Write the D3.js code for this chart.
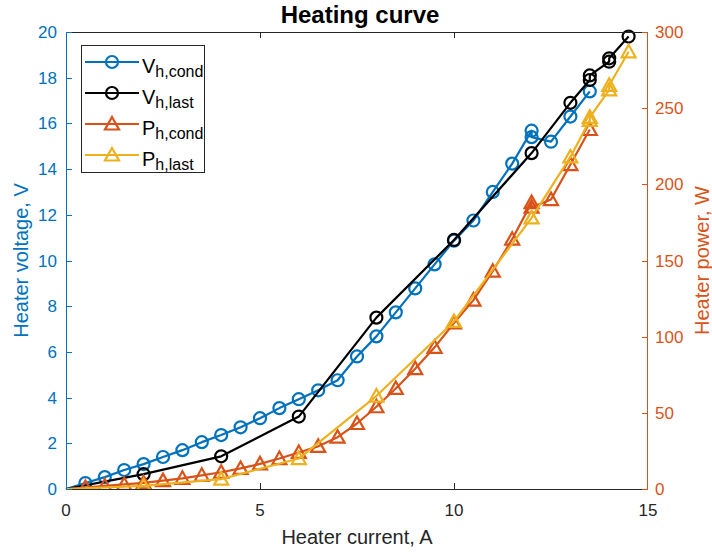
<!DOCTYPE html>
<html><head><meta charset="utf-8">
<script src="https://cdn.jsdelivr.net/npm/d3@7"></script>
<style>body{margin:0;background:#fff}svg{display:block}text{font-family:"Liberation Sans",Arial,Helvetica,sans-serif}</style>
</head><body><svg id="c" width="712" height="552"></svg>
<script>
// Data
const condCurrent = [0,0.5,1,1.5,2,2.5,3,3.5,4,4.5,5,5.5,6,6.5,7,7.5,8,8.5,9,9.5,10,10.5,11,11.5,12,12,12.5,13,13.5];
const condVoltage = [0,0.26,0.52,0.83,1.09,1.4,1.7,2.05,2.36,2.7,3.1,3.54,3.93,4.32,4.76,5.8,6.68,7.73,8.78,9.83,10.87,11.75,13.0,14.24,15.68,15.4,15.2,16.3,17.4];
const condPower   = [0,1,2,3,4,5.5,7,9,11,13.5,16.5,20,24,28,34,43,54,66,79,93,109,124,143,164,188,185,190,213,236];
const lastCurrent = [0,2,4,6,8,10,12,13,13.5,13.5,14,14,14.5];
const lastVoltage = [0,0.65,1.43,3.17,7.5,10.9,14.7,16.9,17.9,18.1,18.7,18.85,19.8];
const lastPower   = [0,2,6.5,20,61,110,178,218,242,244,262,265,287];
const xTicks = [0,5,10,15];
const yLeftTicks = [0,2,4,6,8,10,12,14,16,18,20];
const yRightTicks = [0,50,100,150,200,250,300];
const legendMain = ["V","V","P","P"];
const legendSub = ["h,cond","h,last","h,cond","h,last"];

const C = {blue:"#0072BD", black:"#000000", orange:"#D95319", yellow:"#EDB120", axis:"#262626"};
const svg = d3.select("#c");
const L=66, R=648, T=32, B=489;
const x = d3.scaleLinear().domain([0,15]).range([L,R]);
const yL = d3.scaleLinear().domain([0,20]).range([B,T]);
const yR = d3.scaleLinear().domain([0,300]).range([B,T]);

svg.append("defs").append("clipPath").attr("id","clip").append("rect")
  .attr("x",L-8).attr("y",T-8).attr("width",R-L+16).attr("height",B-T+8);

const series = [
  {xs:condCurrent, ys:condVoltage, sc:yL, col:C.blue, m:"o"},
  {xs:lastCurrent, ys:lastVoltage, sc:yL, col:C.black, m:"o"},
  {xs:condCurrent, ys:condPower, sc:yR, col:C.orange, m:"^"},
  {xs:lastCurrent, ys:lastPower, sc:yR, col:C.yellow, m:"^"}
];
const tri = (cx,cy)=>`M${cx},${cy-7}L${cx+7},${cy+5.5}L${cx-7},${cy+5.5}Z`;
const g = svg.append("g");
const plotClip = g.append("g").attr("clip-path","url(#clip)");
series.forEach(s=>{
  const pts = s.xs.map((v,i)=>[v,s.ys[i]]);
  const line = d3.line().x(d=>x(d[0])).y(d=>s.sc(d[1]));
  plotClip.append("path").attr("d",line(pts)).attr("fill","none").attr("stroke",s.col).attr("stroke-width",2.2).attr("stroke-linejoin","round");
  const mp = pts.filter(d=>d[0]>0);
  if(s.m==="o"){
    plotClip.selectAll(null).data(mp).enter().append("circle")
      .attr("cx",d=>x(d[0])).attr("cy",d=>s.sc(d[1])).attr("r",6)
      .attr("fill","none").attr("stroke",s.col).attr("stroke-width",2.2);
  } else {
    plotClip.selectAll(null).data(mp).enter().append("path")
      .attr("d",d=>tri(x(d[0]),s.sc(d[1])))
      .attr("fill","none").attr("stroke",s.col).attr("stroke-width",2.2).attr("stroke-linejoin","miter");
  }
});

// Axes frame
const ax = svg.append("g");
ax.append("line").attr("x1",L).attr("x2",R).attr("y1",T+0.5).attr("y2",T+0.5).attr("stroke",C.axis).attr("stroke-width",1);
ax.append("line").attr("x1",L).attr("x2",R).attr("y1",B+0.5).attr("y2",B+0.5).attr("stroke",C.axis).attr("stroke-width",1);
ax.append("line").attr("x1",L+0.5).attr("x2",L+0.5).attr("y1",T).attr("y2",B+1).attr("stroke",C.blue).attr("stroke-width",1);
ax.append("line").attr("x1",R-0.5).attr("x2",R-0.5).attr("y1",T).attr("y2",B+1).attr("stroke",C.orange).attr("stroke-width",1);

// x ticks
xTicks.forEach(t=>{
  const px = Math.round(x(t))+0.5;
  if(t>0 && t<15){
    ax.append("line").attr("x1",px).attr("x2",px).attr("y1",B).attr("y2",B-6).attr("stroke",C.axis);
    ax.append("line").attr("x1",px).attr("x2",px).attr("y1",T).attr("y2",T+6).attr("stroke",C.axis);
  }
  ax.append("text").attr("x",x(t)).attr("y",516).attr("text-anchor","middle").attr("font-size",17).attr("fill",C.axis).text(t);
});
yLeftTicks.forEach(t=>{
  const py = Math.round(yL(t))+0.5;
  ax.append("line").attr("x1",L).attr("x2",L+6).attr("y1",py).attr("y2",py).attr("stroke",C.blue);
  ax.append("text").attr("x",57).attr("y",yL(t)+6).attr("text-anchor","end").attr("font-size",17).attr("fill",C.blue).text(t);
});
yRightTicks.forEach(t=>{
  const py = Math.round(yR(t))+0.5;
  ax.append("line").attr("x1",R).attr("x2",R-6).attr("y1",py).attr("y2",py).attr("stroke",C.orange);
  ax.append("text").attr("x",655).attr("y",yR(t)+6).attr("text-anchor","start").attr("font-size",17).attr("fill",C.orange).text(t);
});

// Labels
svg.append("text").attr("x",357).attr("y",544).attr("text-anchor","middle").attr("font-size",20).attr("fill",C.axis).text("Heater current, A");
svg.append("text").attr("transform",`translate(28,${(T+B)/2}) rotate(-90)`).attr("text-anchor","middle").attr("font-size",20).attr("fill",C.blue).text("Heater voltage, V");
svg.append("text").attr("transform",`translate(709,${(T+B)/2}) rotate(-90)`).attr("text-anchor","middle").attr("font-size",20).attr("fill",C.orange).text("Heater power, W");
svg.append("text").attr("x",360).attr("y",23).attr("text-anchor","middle").attr("font-size",24).attr("font-weight","bold").attr("fill","#000").text("Heating curve");

// Legend
const lg = svg.append("g");
lg.append("rect").attr("x",81.5).attr("y",45.5).attr("width",123).attr("height",127).attr("fill","#fff").attr("stroke",C.axis).attr("stroke-width",1);
const rowY = [62,93,124,155];
series.forEach((s,i)=>{
  const yy=rowY[i];
  lg.append("line").attr("x1",85).attr("x2",139).attr("y1",yy).attr("y2",yy).attr("stroke",s.col).attr("stroke-width",2.2);
  if(s.m==="o") lg.append("circle").attr("cx",112).attr("cy",yy).attr("r",6).attr("fill","none").attr("stroke",s.col).attr("stroke-width",2.2);
  else lg.append("path").attr("d",tri(112,yy)).attr("fill","none").attr("stroke",s.col).attr("stroke-width",2.2);
  const t = lg.append("text").attr("x",142).attr("y",yy+11).attr("font-size",20).attr("fill","#000");
  t.append("tspan").text(legendMain[i]);
  t.append("tspan").attr("font-size",16).attr("dy",4).text(legendSub[i]);
});
</script></body></html>
